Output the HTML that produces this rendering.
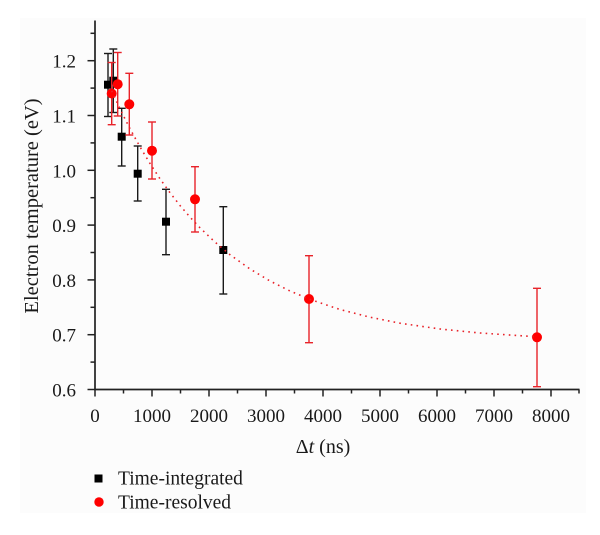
<!DOCTYPE html>
<html>
<head>
<meta charset="utf-8">
<style>
  html, body { margin: 0; padding: 0; background: #ffffff; font-family: "Liberation Serif", "Times New Roman", Times, "Noto Serif CJK SC", serif; }
  svg { display: block; }
  svg text, svg tspan { font-family: "Liberation Serif", "Times New Roman", Times, "Noto Serif CJK SC", serif; fill: #1a1a1a; }
</style>
</head>
<body>
<svg width="600" height="535" viewBox="0 0 600 535" xmlns="http://www.w3.org/2000/svg" style="font-family: 'Liberation Serif', 'Times New Roman', Times, 'Noto Serif CJK SC', serif;">
  <rect x="0" y="0" width="600" height="535" fill="#ffffff"/>
  <rect x="20" y="18" width="566" height="495" fill="#fcfcfc"/>

  <!-- Axes -->
  <g stroke="#222" stroke-width="1.7" fill="none">
    <line x1="95" y1="20.5" x2="95" y2="390.3"/>
    <line x1="94.2" y1="389.5" x2="579.5" y2="389.5"/>
  </g>

  <!-- Y ticks -->
  <g stroke="#222" stroke-width="1.5">
    <line x1="87.5" y1="389.5" x2="95" y2="389.5"/>
    <line x1="87.5" y1="334.7" x2="95" y2="334.7"/>
    <line x1="87.5" y1="279.9" x2="95" y2="279.9"/>
    <line x1="87.5" y1="225.1" x2="95" y2="225.1"/>
    <line x1="87.5" y1="170.3" x2="95" y2="170.3"/>
    <line x1="87.5" y1="115.5" x2="95" y2="115.5"/>
    <line x1="87.5" y1="60.7" x2="95" y2="60.7"/>
    <line x1="90.5" y1="362.1" x2="95" y2="362.1"/>
    <line x1="90.5" y1="307.3" x2="95" y2="307.3"/>
    <line x1="90.5" y1="252.5" x2="95" y2="252.5"/>
    <line x1="90.5" y1="197.7" x2="95" y2="197.7"/>
    <line x1="90.5" y1="142.9" x2="95" y2="142.9"/>
    <line x1="90.5" y1="88.1" x2="95" y2="88.1"/>
    <line x1="90.5" y1="33.3" x2="95" y2="33.3"/>
  </g>

  <!-- X ticks -->
  <g stroke="#222" stroke-width="1.5">
    <line x1="95" y1="389.5" x2="95" y2="396.5"/>
    <line x1="152" y1="389.5" x2="152" y2="396.5"/>
    <line x1="209" y1="389.5" x2="209" y2="396.5"/>
    <line x1="266" y1="389.5" x2="266" y2="396.5"/>
    <line x1="323" y1="389.5" x2="323" y2="396.5"/>
    <line x1="380" y1="389.5" x2="380" y2="396.5"/>
    <line x1="437" y1="389.5" x2="437" y2="396.5"/>
    <line x1="494" y1="389.5" x2="494" y2="396.5"/>
    <line x1="551" y1="389.5" x2="551" y2="396.5"/>
    <line x1="123.5" y1="389.5" x2="123.5" y2="393.5"/>
    <line x1="180.5" y1="389.5" x2="180.5" y2="393.5"/>
    <line x1="237.5" y1="389.5" x2="237.5" y2="393.5"/>
    <line x1="294.5" y1="389.5" x2="294.5" y2="393.5"/>
    <line x1="351.5" y1="389.5" x2="351.5" y2="393.5"/>
    <line x1="408.5" y1="389.5" x2="408.5" y2="393.5"/>
    <line x1="465.5" y1="389.5" x2="465.5" y2="393.5"/>
    <line x1="522.5" y1="389.5" x2="522.5" y2="393.5"/>
    <line x1="579" y1="389.5" x2="579" y2="393.5"/>
  </g>

  <!-- Y tick labels -->
  <g font-size="19" text-anchor="end" fill="#1a1a1a">
    <text x="76" y="396.5" font-family="Liberation Serif, Times New Roman, Noto Serif CJK SC, serif">0.6</text>
    <text x="76" y="341.7" font-family="Liberation Serif, Times New Roman, Noto Serif CJK SC, serif">0.7</text>
    <text x="76" y="286.9" font-family="Liberation Serif, Times New Roman, Noto Serif CJK SC, serif">0.8</text>
    <text x="76" y="232.1" font-family="Liberation Serif, Times New Roman, Noto Serif CJK SC, serif">0.9</text>
    <text x="76" y="177.3" font-family="Liberation Serif, Times New Roman, Noto Serif CJK SC, serif">1.0</text>
    <text x="76" y="122.5" font-family="Liberation Serif, Times New Roman, Noto Serif CJK SC, serif">1.1</text>
    <text x="76" y="67.7" font-family="Liberation Serif, Times New Roman, Noto Serif CJK SC, serif">1.2</text>
  </g>

  <!-- X tick labels -->
  <g font-size="19" text-anchor="middle" fill="#1a1a1a">
    <text x="95" y="422" font-family="Liberation Serif, Times New Roman, Noto Serif CJK SC, serif">0</text>
    <text x="152" y="422" font-family="Liberation Serif, Times New Roman, Noto Serif CJK SC, serif">1000</text>
    <text x="209" y="422" font-family="Liberation Serif, Times New Roman, Noto Serif CJK SC, serif">2000</text>
    <text x="266" y="422" font-family="Liberation Serif, Times New Roman, Noto Serif CJK SC, serif">3000</text>
    <text x="323" y="422" font-family="Liberation Serif, Times New Roman, Noto Serif CJK SC, serif">4000</text>
    <text x="380" y="422" font-family="Liberation Serif, Times New Roman, Noto Serif CJK SC, serif">5000</text>
    <text x="437" y="422" font-family="Liberation Serif, Times New Roman, Noto Serif CJK SC, serif">6000</text>
    <text x="494" y="422" font-family="Liberation Serif, Times New Roman, Noto Serif CJK SC, serif">7000</text>
    <text x="551" y="422" font-family="Liberation Serif, Times New Roman, Noto Serif CJK SC, serif">8000</text>
  </g>

  <!-- Axis titles -->
  <text x="323" y="453" font-size="20" text-anchor="middle" fill="#1a1a1a" font-family="Liberation Serif, Times New Roman, Noto Serif CJK SC, serif">Δ<tspan font-style="italic">t</tspan> (ns)</text>
  <text transform="translate(38,206) rotate(-90)" font-size="20.5" text-anchor="middle" fill="#1a1a1a" font-family="Liberation Serif, Times New Roman, Noto Serif CJK SC, serif">Electron temperature (eV)</text>

  <!-- Black series: error bars -->
  <g stroke="#1a1a1a" stroke-width="1.4" fill="none">
    <line x1="108" y1="53.5" x2="108" y2="116.5"/><line x1="104" y1="53.5" x2="112" y2="53.5"/><line x1="104" y1="116.5" x2="112" y2="116.5"/>
    <line x1="113.3" y1="49" x2="113.3" y2="112.5"/><line x1="109.3" y1="49" x2="117.3" y2="49"/><line x1="109.3" y1="112.5" x2="117.3" y2="112.5"/>
    <line x1="121.7" y1="108.3" x2="121.7" y2="166"/><line x1="117.7" y1="108.3" x2="125.7" y2="108.3"/><line x1="117.7" y1="166" x2="125.7" y2="166"/>
    <line x1="137.7" y1="146" x2="137.7" y2="201"/><line x1="133.7" y1="146" x2="141.7" y2="146"/><line x1="133.7" y1="201" x2="141.7" y2="201"/>
    <line x1="166" y1="189.3" x2="166" y2="254.7"/><line x1="162" y1="189.3" x2="170" y2="189.3"/><line x1="162" y1="254.7" x2="170" y2="254.7"/>
    <line x1="223.3" y1="206.7" x2="223.3" y2="294"/><line x1="219.3" y1="206.7" x2="227.3" y2="206.7"/><line x1="219.3" y1="294" x2="227.3" y2="294"/>
  </g>
  <!-- Black squares -->
  <g fill="#000">
    <rect x="104" y="80.7" width="8" height="8"/>
    <rect x="109.3" y="76.7" width="8" height="8"/>
    <rect x="117.7" y="132.7" width="8" height="8"/>
    <rect x="133.7" y="169.7" width="8" height="8"/>
    <rect x="162" y="217.7" width="8" height="8"/>
    <rect x="219.3" y="246" width="8" height="8"/>
  </g>

  <!-- Red series: error bars -->
  <g stroke="#e8232a" stroke-width="1.4" fill="none">
    <line x1="111.7" y1="62.5" x2="111.7" y2="124.7"/><line x1="107.7" y1="62.5" x2="115.7" y2="62.5"/><line x1="107.7" y1="124.7" x2="115.7" y2="124.7"/>
    <line x1="117.7" y1="52.5" x2="117.7" y2="116"/><line x1="113.7" y1="52.5" x2="121.7" y2="52.5"/><line x1="113.7" y1="116" x2="121.7" y2="116"/>
    <line x1="129.3" y1="73.3" x2="129.3" y2="135"/><line x1="125.3" y1="73.3" x2="133.3" y2="73.3"/><line x1="125.3" y1="135" x2="133.3" y2="135"/>
    <line x1="152" y1="122" x2="152" y2="179"/><line x1="148" y1="122" x2="156" y2="122"/><line x1="148" y1="179" x2="156" y2="179"/>
    <line x1="195" y1="166.7" x2="195" y2="232"/><line x1="191" y1="166.7" x2="199" y2="166.7"/><line x1="191" y1="232" x2="199" y2="232"/>
    <line x1="309" y1="255.7" x2="309" y2="342.7"/><line x1="305" y1="255.7" x2="313" y2="255.7"/><line x1="305" y1="342.7" x2="313" y2="342.7"/>
    <line x1="537" y1="288.3" x2="537" y2="386.7"/><line x1="533" y1="288.3" x2="541" y2="288.3"/><line x1="533" y1="386.7" x2="541" y2="386.7"/>
  </g>
  <!-- Red circles -->
  <g fill="#ff0000">
    <circle cx="111.7" cy="93.5" r="5"/>
    <circle cx="117.7" cy="84.2" r="5"/>
    <circle cx="129.3" cy="104.3" r="5"/>
    <circle cx="152" cy="150.7" r="5"/>
    <circle cx="195" cy="199.3" r="5"/>
    <circle cx="309" cy="299" r="5"/>
    <circle cx="537" cy="337.3" r="5"/>
  </g>

  <!-- Dotted fit curve -->
  <polyline fill="none" stroke="#e8232a" stroke-width="1.6" stroke-dasharray="1.6 4.2"
    points="111.7,90.8 115,98.1 120,108.8 125,118.9 130,128.7 140,146.9 150,163.5 160,178.8 170,192.7 180,205.5 190,217.1 200,227.8 215,242.1 230,254.7 250,269 270,281 290,291 310,299.4 340,309.5 370,317.2 400,323.2 440,329 480,333 537,336.8"/>

  <!-- Legend -->
  <rect x="94.5" y="474.5" width="8" height="8" fill="#000"/>
  <text x="118" y="484.5" font-size="19.5" fill="#1a1a1a" font-family="Liberation Serif, Times New Roman, Noto Serif CJK SC, serif">Time-integrated</text>
  <circle cx="99" cy="502" r="4.7" fill="#ff0000"/>
  <text x="118" y="508.5" font-size="19.5" fill="#1a1a1a" font-family="Liberation Serif, Times New Roman, Noto Serif CJK SC, serif">Time-resolved</text>
</svg>
</body>
</html>
